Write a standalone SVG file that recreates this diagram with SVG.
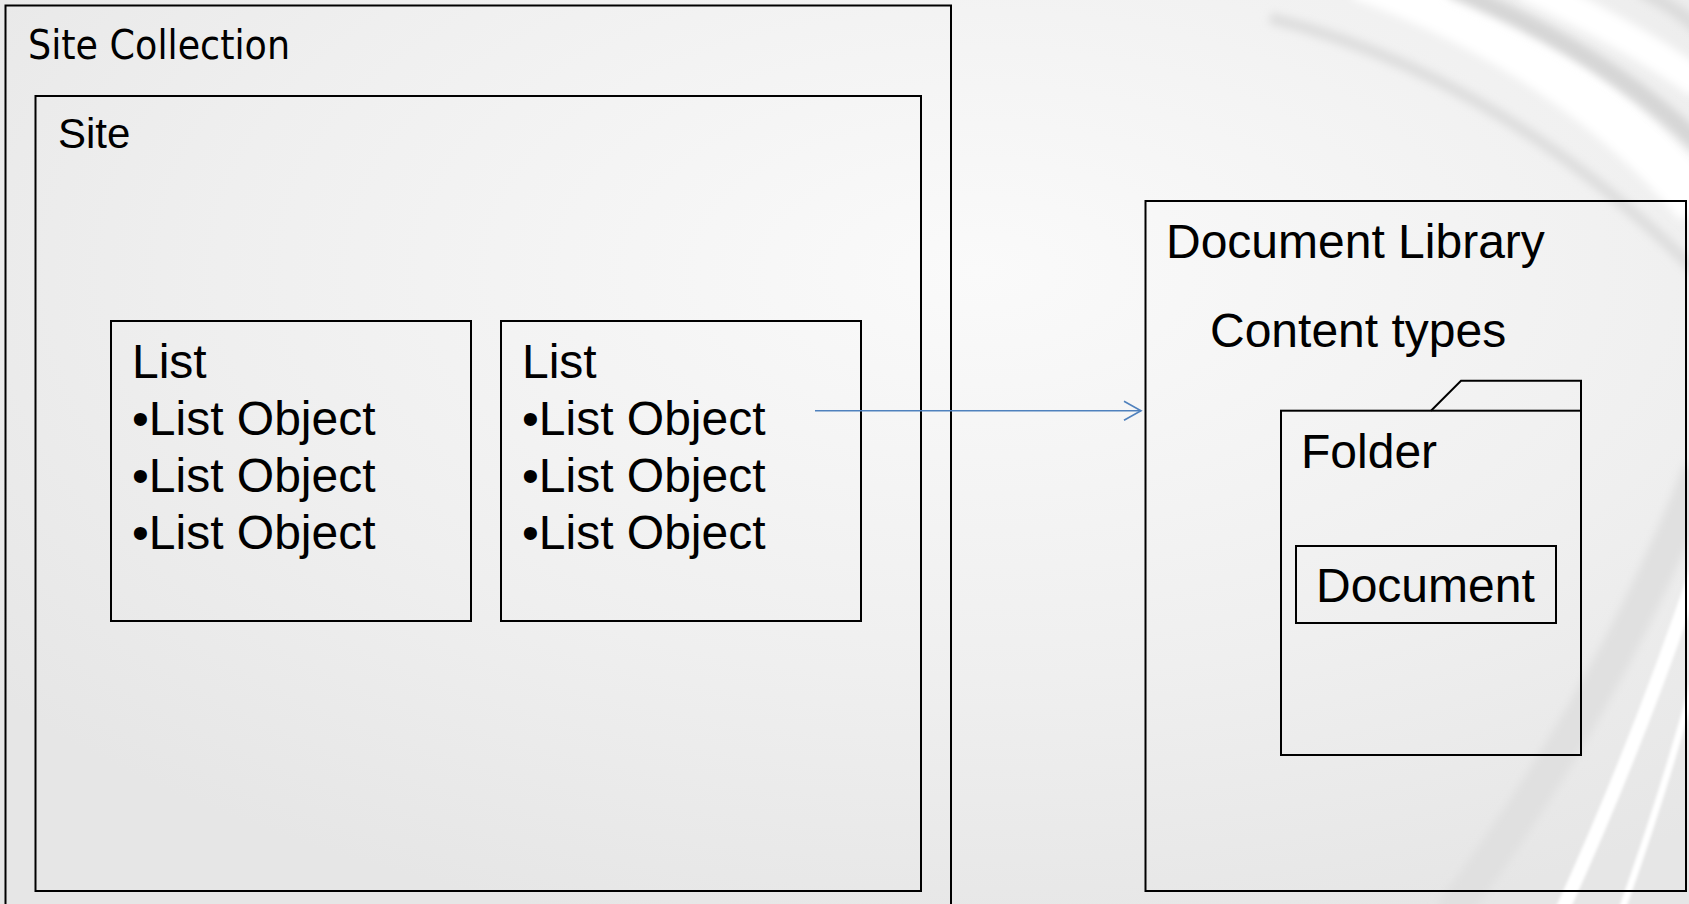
<svg xmlns="http://www.w3.org/2000/svg" width="1689" height="904" viewBox="0 0 1689 904">
<defs>
<radialGradient id="bg" cx="0.58" cy="0.3" r="0.75">
<stop offset="0" stop-color="#fafafa"/>
<stop offset="0.6" stop-color="#efefef"/>
<stop offset="1" stop-color="#e6e6e6"/>
</radialGradient>
<filter id="blur" x="-20%" y="-20%" width="140%" height="140%"><feGaussianBlur stdDeviation="4"/></filter>
<filter id="blur2" x="-20%" y="-20%" width="140%" height="140%"><feGaussianBlur stdDeviation="1.5"/></filter>
<marker id="open" markerUnits="userSpaceOnUse" markerWidth="22" markerHeight="24" refX="18" refY="11" orient="auto">
<path d="M1,1.5 L18,11 L1,20.5" fill="none" stroke="#4f81bd" stroke-width="1.6"/>
</marker>
</defs>
<style>
.box{fill:none;stroke:#000;stroke-width:2}
.t{font-family:"Liberation Sans",Arial,sans-serif;font-size:48px;fill:#000}
.tc{font-family:"DejaVu Sans",Tahoma,sans-serif;font-size:40px;fill:#000}
.conn{fill:none;stroke:#4f81bd;stroke-width:1.6}
</style>
<rect x="0" y="0" width="1689" height="904" fill="url(#bg)"/>
<g id="background-swooshes">
<path d="M1270,18 Q1500,75 1700,275" fill="none" stroke="#dedede" stroke-width="12" filter="url(#blur)"/>
<path d="M1360,-25 Q1570,50 1700,205" fill="none" stroke="#ffffff" stroke-width="50" filter="url(#blur)"/>
<path d="M1450,-12 Q1610,55 1700,145" fill="none" stroke="#d6d6d6" stroke-width="18" filter="url(#blur)"/>
<path d="M1525,-15 Q1640,40 1700,85" fill="none" stroke="#ffffff" stroke-width="30" filter="url(#blur)"/>
<path d="M1640,-10 Q1680,10 1700,30" fill="none" stroke="#dcdcdc" stroke-width="14" filter="url(#blur)"/>
<path d="M1700,470 Q1610,700 1450,915" fill="none" stroke="#e0e0e0" stroke-width="34" filter="url(#blur)"/>
<path d="M1700,560 Q1640,740 1560,915" fill="none" stroke="#ffffff" stroke-width="14" filter="url(#blur2)"/>
<path d="M1700,660 Q1665,790 1620,915" fill="none" stroke="#ffffff" stroke-width="7" filter="url(#blur2)"/>
</g>
<g id="site-collection">
<rect class="box" x="5.5" y="5.5" width="945.5" height="930" stroke-width="1.6"/>
<text class="tc" x="28" y="59" textLength="262" lengthAdjust="spacingAndGlyphs">Site Collection</text>
</g>
<g id="site">
<rect class="box" x="35.5" y="96" width="885.5" height="795"/>
<text class="t" x="58" y="148" style="font-size:42px">Site</text>
</g>
<g id="list-1">
<rect class="box" x="111" y="321" width="360" height="300"/>
<text class="t" x="132" y="378">List</text>
<text class="t" x="132" y="435">•List Object</text>
<text class="t" x="132" y="492">•List Object</text>
<text class="t" x="132" y="549">•List Object</text>
</g>
<g id="list-2">
<rect class="box" x="501" y="321" width="360" height="300"/>
<text class="t" x="522" y="378">List</text>
<text class="t" x="522" y="435">•List Object</text>
<text class="t" x="522" y="492">•List Object</text>
<text class="t" x="522" y="549">•List Object</text>
</g>
<g id="document-library">
<rect class="box" x="1145.5" y="201" width="540.5" height="690"/>
<text class="t" x="1166" y="258">Document Library</text>
<text class="t" x="1210" y="347">Content types</text>
</g>
<g id="folder">
<path class="box" d="M1431,410.7 L1461,380.7 L1581,380.7 L1581,410.7"/>
<rect class="box" x="1281" y="410.7" width="300" height="344.3"/>
<text class="t" x="1301" y="468">Folder</text>
</g>
<g id="document">
<rect class="box" x="1296" y="546" width="260" height="77" stroke-width="1.6" stroke="#222"/>
<text class="t" x="1316" y="602">Document</text>
</g>
<g id="connectors">
<path class="conn" d="M815,410.7 L1141,410.7" marker-end="url(#open)"/>
</g>
</svg>
